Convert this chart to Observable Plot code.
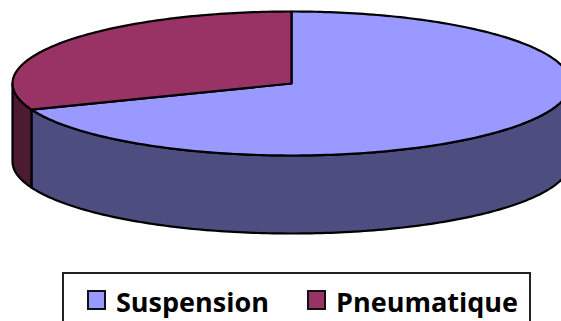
<!DOCTYPE html>
<html><head><meta charset="utf-8">
<script src="https://cdn.jsdelivr.net/npm/d3@7"></script>
<script src="https://cdn.jsdelivr.net/npm/@observablehq/plot@0.6"></script>
<style>
html,body{margin:0;padding:0;background:#fff;width:561px;height:321px;overflow:hidden}
svg{display:block}
#legend{box-sizing:border-box;margin-left:62px;width:469px;height:60px;border:2px solid #222;border-bottom:none;position:relative;font:bold 27px "Open Sans",sans-serif;color:#000}
#legend span{position:absolute;top:10px;line-height:36px;white-space:nowrap}
#legend i{position:absolute;top:16px;width:15px;height:16px;border:2px solid #111;box-sizing:content-box}
</style></head><body>
<div id="chart"></div>
<div id="legend"></div>
<script>
const categories = ["Suspension", "Pneumatique"];
const shares = [69.1, 30.9];
const topColors = ["#9999ff", "#993366"];
const sideColors = ["#4d4d80", "#4d1a33"];
const depth = 78 / 72;
const W = 561, H = 272;
const cx = 291, cy = 83, rx = 279, ry = 72;

const pie = d3.pie().sort(null)(shares);
const deg = Math.PI / 180;
const tops = [], sides = [];
pie.forEach((s, i) => {
  const n = Math.max(2, Math.ceil((s.endAngle - s.startAngle) / deg));
  const pts = d3.range(n + 1).map(k => s.startAngle + (s.endAngle - s.startAngle) * k / n);
  tops.push({key: categories[i], u: 0, v: 0});
  pts.forEach(t => tops.push({key: categories[i], u: Math.sin(t), v: Math.cos(t)}));
  // visible front wall: only the part of the rim on the near half of the disc
  const a = Math.max(s.startAngle, Math.PI / 2), b = Math.min(s.endAngle, 3 * Math.PI / 2);
  if (b > a) {
    const m = Math.ceil((b - a) / deg);
    const rim = d3.range(m + 1).map(k => a + (b - a) * k / m);
    rim.forEach(t => sides.push({key: categories[i], u: Math.sin(t), v: Math.cos(t)}));
    rim.slice().reverse().forEach(t => sides.push({key: categories[i], u: Math.sin(t), v: Math.cos(t) - depth}));
  }
});

const plot = Plot.plot({
  width: W, height: H, margin: 0,
  x: {domain: [-cx / rx, (W - cx) / rx], range: [0, W], axis: null},
  y: {domain: [cy / ry, (cy - H) / ry], range: [0, H], axis: null},
  color: {domain: categories, range: topColors},
  marks: [
    Plot.line(sides, {x: "u", y: "v", z: "key", curve: "linear-closed", strokeWidth: 2.2, stroke: "#000",
      fill: d => sideColors[categories.indexOf(d.key)]}),
    Plot.line(tops, {x: "u", y: "v", z: "key", curve: "linear-closed", strokeWidth: 2.2, stroke: "#000",
      fill: d => topColors[categories.indexOf(d.key)]})
  ]
});
document.getElementById("chart").append(plot);

const legend = document.getElementById("legend");
const swatchX = [23, 243], textX = [52, 272];
categories.forEach((c, i) => {
  const sw = document.createElement("i");
  sw.style.left = swatchX[i] + "px";
  sw.style.background = topColors[i];
  const t = document.createElement("span");
  t.style.left = textX[i] + "px";
  t.textContent = c;
  legend.append(sw, t);
});
</script>
</body></html>
